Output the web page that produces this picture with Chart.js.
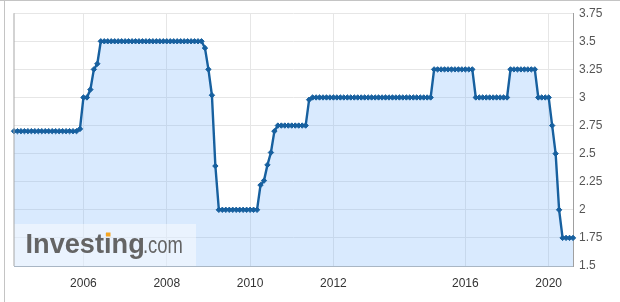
<!DOCTYPE html>
<html>
<head>
<meta charset="utf-8">
<script src="https://cdn.jsdelivr.net/npm/chart.js@4.4.1/dist/chart.umd.min.js"></script>
<style>
  html, body { margin: 0; padding: 0; background: #fff; }
  #wrap { position: relative; width: 620px; height: 302px; }
</style>
</head>
<body>
<div id="wrap"><canvas id="grafico" width="620" height="302"></canvas></div>
<script>
// Valores da taxa (um ponto por leitura, eixo por categoria)
const taxa = [
  2.7, 2.7, 2.7, 2.7, 2.7, 2.7, 2.7, 2.7, 2.7, 2.7,
  2.7, 2.7, 2.7, 2.7, 2.7, 2.7, 2.7, 2.7, 2.7, 2.72,
  3.0, 3.0, 3.07, 3.25, 3.3, 3.5, 3.5, 3.5, 3.5, 3.5,
  3.5, 3.5, 3.5, 3.5, 3.5, 3.5, 3.5, 3.5, 3.5, 3.5,
  3.5, 3.5, 3.5, 3.5, 3.5, 3.5, 3.5, 3.5, 3.5, 3.5,
  3.5, 3.5, 3.5, 3.5, 3.5, 3.44, 3.25, 3.02, 2.39, 2.0,
  2.0, 2.0, 2.0, 2.0, 2.0, 2.0, 2.0, 2.0, 2.0, 2.0,
  2.0, 2.22, 2.26, 2.4, 2.51, 2.7, 2.75, 2.75, 2.75, 2.75,
  2.75, 2.75, 2.75, 2.75, 2.75, 2.98, 3.0, 3.0, 3.0, 3.0,
  3.0, 3.0, 3.0, 3.0, 3.0, 3.0, 3.0, 3.0, 3.0, 3.0,
  3.0, 3.0, 3.0, 3.0, 3.0, 3.0, 3.0, 3.0, 3.0, 3.0,
  3.0, 3.0, 3.0, 3.0, 3.0, 3.0, 3.0, 3.0, 3.0, 3.0,
  3.0, 3.25, 3.25, 3.25, 3.25, 3.25, 3.25, 3.25, 3.25, 3.25,
  3.25, 3.25, 3.25, 3.0, 3.0, 3.0, 3.0, 3.0, 3.0, 3.0,
  3.0, 3.0, 3.0, 3.25, 3.25, 3.25, 3.25, 3.25, 3.25, 3.25,
  3.25, 3.0, 3.0, 3.0, 3.0, 2.75, 2.5, 2.0, 1.75, 1.75,
  1.75, 1.75
];

// Rótulos dos anos e em que ponto eles caem
const anos = ['2006', '2008', '2010', '2012', '2016', '2020'];
const anosPos = [20, 44, 68, 92, 130, 154];

// Eixo Y
const yMin = 1.5;
const yMax = 3.75;
const yPasso = 0.25;

var rotulos = taxa.map((v, i) => {
    var k = anosPos.indexOf(i);
    return k >= 0 ? anos[k] : '';
});

// Moldura, borda esquerda e a marca d'água
const extras = {
    id: 'extras',
    beforeDraw(chart) {
        const ctx = chart.ctx;
        ctx.save();
        ctx.fillStyle = '#c4c4c4';
        ctx.fillRect(0, 0, 620, 1);
        ctx.fillRect(4, 0, 1, 302);
        ctx.restore();
    },
    afterDatasetsDraw(chart) {
        const ctx = chart.ctx;
        const a = chart.chartArea;
        ctx.save();
        ctx.fillStyle = 'rgba(255,255,255,0.45)';
        ctx.fillRect(a.left, a.bottom - 42, 182, 42);

        ctx.fillStyle = '#646464';
        ctx.textBaseline = 'alphabetic';
        ctx.save();
        ctx.translate(25.5, 253);
        ctx.scale(0.97, 1);
        ctx.font = 'bold 28px Arial, "Liberation Sans", sans-serif';
        ctx.fillText('Investing', 0, 0);
        ctx.restore();
        ctx.save();
        ctx.translate(143, 253);
        ctx.scale(0.8, 1);
        ctx.font = '23px Arial, "Liberation Sans", sans-serif';
        ctx.fillText('.com', 0, 0);
        ctx.restore();
        ctx.fillStyle = '#f5a623';
        ctx.fillRect(106, 232.5, 4.5, 4);

        // borda esquerda da área do gráfico
        ctx.fillStyle = '#a8a8a8';
        ctx.fillRect(a.left - 0.5, a.top, 1, a.bottom - a.top);
        ctx.restore();
    }
};

const ctxGrafico = document.getElementById('grafico').getContext('2d');
const grafico = new Chart(ctxGrafico, {
    type: 'line',
    data: {
        labels: rotulos,
        datasets: [{
            data: taxa,
            borderColor: '#17609f',
            borderWidth: 2.4,
            backgroundColor: 'rgba(120,180,250,0.28)',
            fill: 'start',
            tension: 0,
            pointStyle: 'rectRot',
            pointRadius: 2.7,
            pointBackgroundColor: '#17609f',
            pointBorderColor: '#17609f',
            pointBorderWidth: 1
        }]
    },
    options: {
        responsive: false,
        animation: false,
        layout: { padding: { left: 14, top: 10, right: 0, bottom: 0 } },
        plugins: {
            legend: { display: false },
            tooltip: { enabled: false }
        },
        scales: {
            x: {
                type: 'category',
                offset: false,
                grid: {
                    color: (c) => (c.tick && c.tick.label !== '') ? '#e6e6e6' : 'rgba(0,0,0,0)',
                    drawTicks: false
                },
                border: { color: '#a9b6c4', width: 1 },
                ticks: {
                    autoSkip: false,
                    maxRotation: 0,
                    padding: 10,
                    color: '#333333',
                    font: { family: 'Arial, "Liberation Sans", sans-serif', size: 12 }
                },
                afterFit(scale) { scale.height = 36; }
            },
            y: {
                position: 'right',
                min: yMin,
                max: yMax,
                grid: { color: '#e6e6e6', drawTicks: false },
                border: { color: '#a0a0a0', width: 1 },
                ticks: {
                    stepSize: yPasso,
                    padding: 6,
                    color: '#555555',
                    font: { family: 'Arial, "Liberation Sans", sans-serif', size: 12 },
                    callback: (v) => String(+Number(v).toFixed(2))
                },
                afterFit(scale) { scale.width = 47; }
            }
        }
    },
    plugins: [extras]
});
</script>
</body>
</html>
